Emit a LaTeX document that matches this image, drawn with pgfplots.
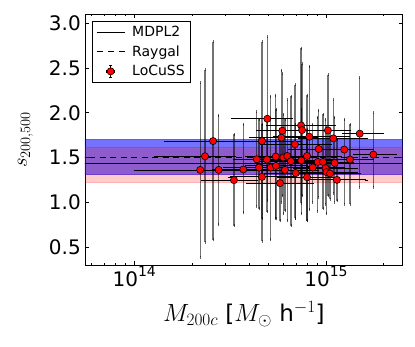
\documentclass[border=0pt]{standalone}
\usepackage{pgfplots}
\pgfplotsset{compat=1.18}
\usepackage{pgfplotstable}
\usepackage{fontspec}
\setmainfont{DejaVu Sans}

\pgfplotstableread{
x y xlo xhi ylo yhi
14.694 1.933 14.511 14.821 1.018 2.851
14.411 1.684 14.165 14.666 0.581 2.796
14.369 1.514 14.113 14.525 0.556 2.481
14.344 1.362 14.004 14.604 0.389 2.333
14.440 1.362 14.254 14.640 0.751 1.970
14.569 1.367 14.411 14.692 0.881 1.870
14.520 1.248 14.357 14.639 0.740 1.759
14.666 1.684 14.473 14.864 0.814 2.796
14.639 1.481 14.525 14.770 0.956 2.011
14.692 1.478 14.551 14.844 0.892 1.926
14.738 1.511 14.583 14.917 0.822 2.196
14.651 1.389 14.473 14.812 0.926 1.926
14.712 1.389 14.531 14.890 0.584 2.184
14.739 1.407 14.577 14.906 0.814 2.037
14.666 1.284 14.499 14.838 0.567 1.870
14.760 1.214 14.593 14.927 0.796 1.814
14.772 1.800 14.645 14.890 1.073 2.437
14.767 1.722 14.604 14.948 1.000 2.473
14.870 1.859 14.697 15.042 0.992 2.722
14.875 1.807 14.708 15.073 1.073 2.548
14.913 1.733 14.729 15.115 0.918 2.518
15.010 1.803 14.823 15.125 1.073 2.426
15.038 1.714 14.864 15.209 1.103 2.148
15.176 1.767 15.089 15.294 1.170 2.389
14.838 1.648 14.666 15.021 0.822 2.314
14.962 1.596 14.812 15.125 1.056 2.029
15.095 1.589 14.943 15.240 0.981 1.926
15.247 1.533 15.151 15.360 1.167 2.000
15.125 1.478 14.995 15.240 0.981 1.870
14.777 1.500 14.630 14.943 0.870 1.981
14.798 1.518 14.645 14.958 0.792 2.148
14.817 1.459 14.666 14.979 0.740 2.184
14.871 1.467 14.708 15.047 0.870 2.037
14.901 1.518 14.739 15.073 0.796 2.196
14.957 1.451 14.812 15.115 0.903 1.948
14.984 1.451 14.828 15.136 0.926 1.981
15.045 1.440 14.890 15.188 1.003 1.948
14.786 1.362 14.630 14.958 0.907 1.926
14.931 1.389 14.786 15.089 1.000 1.870
14.998 1.381 14.838 15.157 0.981 1.926
15.002 1.337 14.844 15.157 0.870 1.837
14.842 1.326 14.682 15.010 0.814 1.870
15.021 1.322 14.864 15.177 1.037 1.814
14.901 1.281 14.750 15.063 0.796 1.814
15.057 1.251 14.906 15.209 1.018 1.703
}\locuss

\begin{document}
\begin{tikzpicture}
\begin{axis}[
  name=ax,
  scale only axis,
  width=317.7pt, height=250.7pt,
  xmin=13.743, xmax=15.40,
  ymin=0.3, ymax=3.1,
  xtick={14,15},
  xticklabels={10\raisebox{0.5em}{\fontsize{14}{14}\selectfont 14},10\raisebox{0.5em}{\fontsize{14}{14}\selectfont 15}},
  minor xtick={13.778,13.845,13.903,13.954,14.301,14.477,14.602,14.699,14.778,14.845,14.903,14.954,15.301},
  ytick={0.5,1,1.5,2,2.5,3},
  yticklabels={0.5,1.0,1.5,2.0,2.5,3.0},
  tick align=inside,
  major tick length=4pt, minor tick length=2pt,
  tick style={black, line width=0.6pt},
  axis line style={black, line width=0.9pt},
  ticklabel style={font=\fontsize{20}{24}\selectfont},
  yticklabel style={inner xsep=0pt, xshift=-4pt},
  xticklabel style={inner ysep=0pt, yshift=-1pt},
  xlabel={$M_{200c}$ [$M_\odot$ h$^{-1}$]},
  ylabel={$s_{200,500}$},
  xlabel style={font=\fontsize{23}{26}\selectfont, at={(axis description cs:0.5,-0.2262)}, anchor=base},
  ylabel style={font=\fontsize{22}{25}\selectfont, at={(axis description cs:-0.1826,0.5)}, anchor=base},
  legend style={at={(axis description cs:0,1)}, anchor=north west, xshift=6.7pt, yshift=-6.7pt,
    draw=black, line width=0.8pt, font=\fontsize{14}{16}\selectfont,
    inner xsep=4pt, inner ysep=3pt, row sep=3.5pt,
    /tikz/every odd column/.append style={column sep=5pt}},
  legend cell align=left,
]
% bands
\addplot[forget plot, fill=blue, fill opacity=0.55, draw=blue, draw opacity=0.55, line width=0.5pt]
  coordinates {(13.6,1.31) (15.5,1.31) (15.5,1.70) (13.6,1.70) (13.6,1.31)};
\addplot[forget plot, fill=red, fill opacity=0.2, draw=red, draw opacity=0.2, line width=0.5pt]
  coordinates {(13.6,1.22) (15.5,1.22) (15.5,1.62) (13.6,1.62) (13.6,1.22)};
% central lines
\addplot[forget plot, black, line width=1pt] coordinates {(13.6,1.43) (15.5,1.43)};
\addplot[forget plot, black, line width=1.1pt, dash pattern=on 6pt off 4.5pt] coordinates {(13.6,1.50) (15.5,1.50)};
% vertical error bars (grey)
\addplot[forget plot, only marks, mark=none,
  error bars/.cd, y dir=both, y explicit,
  error bar style={draw=black, draw opacity=0.55, line width=1.4pt},
  error mark options={draw=black, draw opacity=0.6, mark size=1.5pt, line width=0.6pt}]
  table[x=x, y=y, y error plus expr=\thisrow{yhi}-\thisrow{y}, y error minus expr=\thisrow{y}-\thisrow{ylo}] {\locuss};
% horizontal error bars (black)
\addplot[forget plot, only marks, mark=none,
  error bars/.cd, x dir=both, x explicit,
  error bar style={draw=black, line width=0.8pt},
  error mark options={draw=black, mark size=1.5pt, line width=0.6pt}]
  table[x=x, y=y, x error plus expr=\thisrow{xhi}-\thisrow{x}, x error minus expr=\thisrow{x}-\thisrow{xlo}] {\locuss};
% markers
\addplot[forget plot, only marks, mark=*, mark size=3.6pt, mark options={fill=red, draw=black, line width=0.6pt}]
  table[x=x, y=y] {\locuss};
% legend
\addlegendimage{legend image code/.code={\draw[black, line width=1pt] (0pt,0pt) -- (28pt,0pt);}}
\addlegendentry{MDPL2}
\addlegendimage{legend image code/.code={\draw[black, line width=1.1pt, dash pattern=on 6pt off 5pt] (0pt,0pt) -- (28pt,0pt);}}
\addlegendentry{Raygal}
\addlegendimage{legend image code/.code={
  \draw[black, line width=0.7pt] (10pt,0pt) -- (18pt,0pt);
  \draw[black, line width=0.7pt] (10pt,-1.5pt) -- (10pt,1.5pt);
  \draw[black, line width=0.7pt] (18pt,-1.5pt) -- (18pt,1.5pt);
  \draw[black, line width=0.7pt] (14pt,-6pt) -- (14pt,6pt);
  \draw[black, line width=0.7pt] (12.5pt,-6pt) -- (15.5pt,-6pt);
  \draw[black, line width=0.7pt] (12.5pt,6pt) -- (15.5pt,6pt);
  \fill[red, draw=black, line width=0.6pt] (14pt,0pt) circle (3.6pt);}}
\addlegendentry{LoCuSS}
\end{axis}
\path (ax.south west) ++(-85pt,-81pt) rectangle ++(415pt,346pt);
\end{tikzpicture}
\end{document}
